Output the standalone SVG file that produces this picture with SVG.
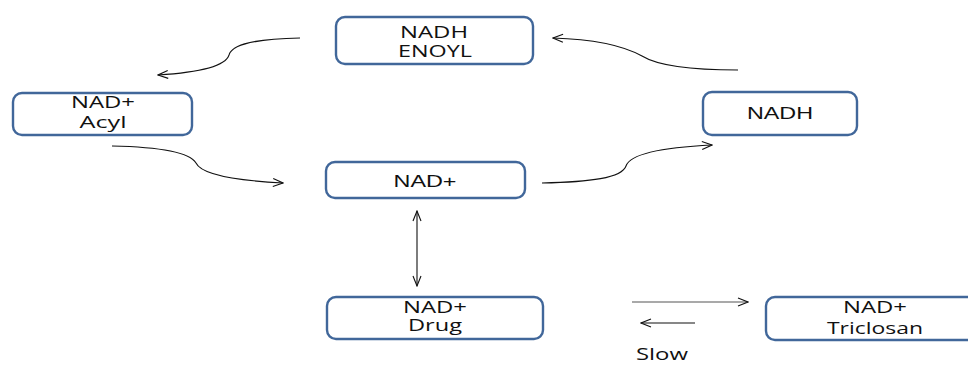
<svg xmlns="http://www.w3.org/2000/svg" width="968" height="365" viewBox="0 0 968 365">
  <defs>
    <style>
      .box { fill: #ffffff; stroke: #41679a; stroke-width: 2.4; }
      .lbl { font-family: "Open Sans", "Liberation Sans", sans-serif; font-size: 17px; fill: #111111; text-anchor: middle; }
      .lbl2 { font-family: "Liberation Sans", Arial, sans-serif; font-size: 17px; fill: #111111; text-anchor: middle; }
      .conn { fill: none; stroke: #111111; stroke-width: 1.1; }
      .gray { stroke: #555555; }
    </style>
    <marker id="open" viewBox="0 0 12 10" refX="11" refY="5" markerWidth="12" markerHeight="10" markerUnits="userSpaceOnUse" orient="auto-start-reverse">
      <path d="M1,1 L11,5 L1,9" fill="none" stroke="#111111" stroke-width="1.1"/>
    </marker>
  </defs>

  <rect width="968" height="365" fill="#ffffff"/>

  <g id="connectors">
    <!-- NADH ENOYL to NAD+ Acyl -->
    <path class="conn" d="M300,38 C255,39 232,44 229,55 C225,68 190,73 158,75" marker-end="url(#open)"/>
    <!-- NADH to NADH ENOYL -->
    <path class="conn" d="M738,70 C680,70 655,64 642,56 C620,44 590,39 553,38" marker-end="url(#open)"/>
    <!-- NAD+ Acyl to NAD+ -->
    <path class="conn" d="M112,146 C160,147 190,153 196,163 C202,176 245,181 283,183" marker-end="url(#open)"/>
    <!-- NAD+ to NADH -->
    <path class="conn" d="M542,183 C590,182 622,178 626,166 C631,152 670,147 712,145" marker-end="url(#open)"/>
    <!-- NAD+ <-> NAD+ Drug -->
    <line class="conn" x1="417" y1="211" x2="417" y2="286" marker-start="url(#open)" marker-end="url(#open)"/>
    <!-- forward / reverse binding -->
    <line class="conn gray" x1="632" y1="302" x2="748" y2="302" marker-end="url(#open)"/>
    <line class="conn" x1="695" y1="323" x2="641" y2="323" marker-end="url(#open)"/>
  </g>

  <g id="nadh-enoyl">
    <rect class="box" x="336" y="17" width="197" height="47" rx="9"/>
    <text class="lbl" x="434" y="38" textLength="68" lengthAdjust="spacingAndGlyphs">NADH</text>
    <text class="lbl" x="435" y="57" textLength="74" lengthAdjust="spacingAndGlyphs">ENOYL</text>
  </g>

  <g id="nad-acyl">
    <rect class="box" x="13" y="93" width="179" height="42" rx="9"/>
    <text class="lbl" x="103" y="108" textLength="64" lengthAdjust="spacingAndGlyphs">NAD+</text>
    <text class="lbl" x="103" y="128" textLength="47" lengthAdjust="spacingAndGlyphs">Acyl</text>
  </g>

  <g id="nadh">
    <rect class="box" x="703" y="92" width="154" height="43" rx="9"/>
    <text class="lbl2" x="780" y="119" textLength="66" lengthAdjust="spacingAndGlyphs">NADH</text>
  </g>

  <g id="nad">
    <rect class="box" x="326" y="162" width="199" height="36" rx="9"/>
    <text class="lbl2" x="425" y="187" textLength="63" lengthAdjust="spacingAndGlyphs">NAD+</text>
  </g>

  <g id="nad-drug">
    <rect class="box" x="327" y="297" width="216" height="42" rx="9"/>
    <text class="lbl" x="435" y="313" textLength="64" lengthAdjust="spacingAndGlyphs">NAD+</text>
    <text class="lbl" x="435" y="331" textLength="54" lengthAdjust="spacingAndGlyphs">Drug</text>
  </g>

  <g id="nad-triclosan">
    <rect class="box" x="766" y="297" width="215" height="43" rx="9"/>
    <text class="lbl" x="875" y="313" textLength="64" lengthAdjust="spacingAndGlyphs">NAD+</text>
    <text class="lbl" x="875" y="334" textLength="96" lengthAdjust="spacingAndGlyphs">Triclosan</text>
  </g>

  <g id="slow-label">
    <text class="lbl" x="662" y="360" textLength="52" lengthAdjust="spacingAndGlyphs">Slow</text>
  </g>
</svg>
